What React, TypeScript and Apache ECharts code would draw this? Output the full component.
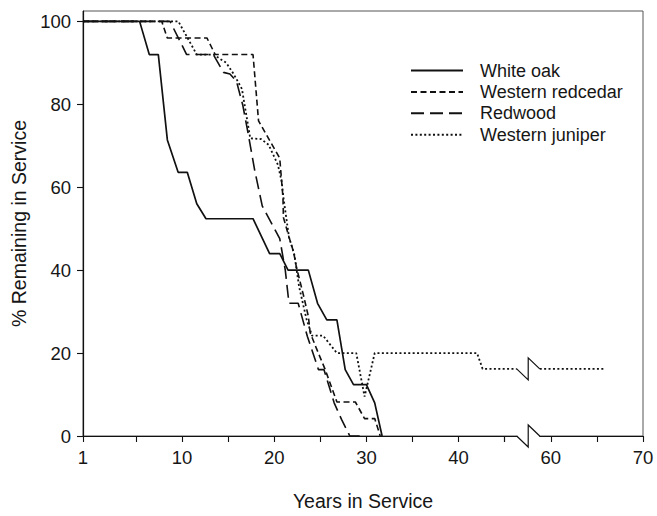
import React, { useEffect, useRef } from "react";
import * as echarts from "echarts";

// ---- axis description (years) ----
const X_START = -0.74; // drawing position of the first tick, labelled "1"
const xTickYears = [1, 5, 10, 15, 20, 25, 30, 35, 40, 45, 55, 60, 65, 70];
const xLabelYears = [1, 10, 20, 30, 40, 60, 70];
const yTicks = [0, 20, 40, 60, 80, 100];
const BREAK_LEFT = 46.3; // axis break (years)
const BREAK_RIGHT = 58.8;

// ---- series (years in service, % remaining) ----
const seriesNames = ["White oak", "Western redcedar", "Redwood", "Western juniper"];

const whiteOakX = [1, 5.4, 6.45, 7.43, 8.41, 9.58, 10.57, 11.6, 12.6, 17.7, 19.5, 20.6, 21.5, 23.7, 24.7, 25.7, 26.8, 27.7, 28.6, 30.0, 30.9, 31.7];
const whiteOakY = [100, 100, 92, 92, 71.4, 63.6, 63.6, 56, 52.4, 52.4, 44, 44, 40, 40, 32, 28, 28, 16, 12.4, 12.4, 8, 0];

const redcedarX = [1, 7.8, 8.4, 12.7, 13.6, 17.7, 18.3, 20.6, 20.95, 21.0, 21.6, 22.1, 22.4, 23.2, 23.7, 23.9, 24.6, 25.5, 26.8, 28.8, 29.8, 30.9, 31.5];
const redcedarY = [100, 100, 96, 96, 92, 92, 76, 67, 57.5, 52.7, 48, 44.4, 40.8, 33.7, 28.9, 24.9, 21, 16.2, 8.2, 8.2, 4.2, 4.2, 0];

const redwoodX = [1, 8.7, 10.5, 13.4, 14.5, 15.2, 15.9, 16.6, 17.2, 17.9, 18.7, 20.6, 21.2, 21.6, 22.6, 23.6, 24.8, 25.4, 26.5, 27.3, 28.2, 29.3];
const redwoodY = [100, 100, 92, 92, 87.7, 87.3, 85.6, 79.7, 72.6, 63.9, 55.5, 47.6, 40, 32, 32, 24, 16, 16, 8, 4, 0, 0];

const juniperX = [1, 9.6, 11.6, 13.4, 14.8, 15.6, 16.5, 16.8, 17.4, 18.6, 19.4, 20.4, 20.8, 21.0, 21.6, 22.2, 22.7, 23.5, 24.1, 25.3, 26.8, 28.9, 29.8, 30.9, 42.0, 42.6, 46.3];
const juniperY = [100, 100, 92, 92, 90, 87.3, 83.7, 79.7, 71.8, 71.6, 70.2, 65.4, 61.5, 57.5, 48, 43.6, 36, 28.2, 24.2, 24.2, 20, 20, 9.5, 20, 20, 16.2, 16.2];
const juniperTailX = [58.8, 65.7];
const juniperTailY = [16.2, 16.2];

// years -> drawing position along the (broken) axis
const toDisplay = (year: number) => {
  if (year <= 5) return X_START + ((year - 1) * (5 - X_START)) / 4;
  if (year >= 50) return year - 10;
  return year;
};

const FONT = "'Liberation Sans', Arial, Helvetica, sans-serif";
const INK = "#111";
const TEXT = "#161616";

export default function App() {
  const ref = useRef<HTMLDivElement>(null);
  useEffect(() => {
    const chart = echarts.init(ref.current!, undefined, { renderer: "svg" });
    const mk = (xs: number[], ys: number[]) => xs.map((x, i) => [toDisplay(x), ys[i]]);
    const line = (name: string, xs: number[], ys: number[], ls: any) => ({
      type: "line",
      name,
      data: mk(xs, ys),
      symbol: "none",
      silent: true,
      lineStyle: { color: INK, width: 1.6, ...ls },
      itemStyle: { color: INK },
      z: 3,
    });
    const labelFor = (v: number) => {
      const y = xLabelYears.find((yr) => Math.abs(toDisplay(yr) - v) < 1e-6);
      return y === undefined ? "" : String(y);
    };
    chart.setOption({
      animation: false,
      grid: { left: 83, right: 14, top: 11, bottom: 74.5, show: true, borderColor: "#555", borderWidth: 1 },
      xAxis: {
        type: "value",
        min: X_START,
        max: toDisplay(70),
        axisLine: { onZero: false, lineStyle: { color: INK, width: 1.2 } },
        axisTick: { customValues: xTickYears.map(toDisplay), length: 6, lineStyle: { color: INK, width: 1.1 } },
        axisLabel: {
          customValues: xLabelYears.map(toDisplay),
          formatter: (v: number) => labelFor(v),
          fontSize: 18.5,
          color: TEXT,
          margin: 12,
          fontFamily: FONT,
        },
        splitLine: { show: false },
        name: "Years in Service",
        nameLocation: "middle",
        nameGap: 55,
        nameTextStyle: { fontSize: 19.5, color: TEXT, fontFamily: FONT },
      },
      yAxis: {
        type: "value",
        min: 0,
        max: 102.5,
        axisLine: { show: true, onZero: false, lineStyle: { color: INK, width: 1.2 } },
        axisTick: { show: true, customValues: yTicks, length: 6, lineStyle: { color: INK, width: 1.1 } },
        axisLabel: { customValues: yTicks, fontSize: 18.5, color: TEXT, margin: 12, fontFamily: FONT },
        splitLine: { show: false },
        name: "% Remaining in Service",
        nameLocation: "middle",
        nameGap: 52,
        nameTextStyle: { fontSize: 19.5, color: TEXT, fontFamily: FONT },
      },
      legend: {
        orient: "vertical",
        left: 410,
        top: 61.5,
        padding: 0,
        itemWidth: 52,
        itemHeight: 14,
        itemGap: 3.4,
        selectedMode: false,
        data: seriesNames,
        itemStyle: { opacity: 0 },
        textStyle: { fontSize: 18, color: TEXT, fontFamily: FONT, padding: [0, 0, 0, 12], lineHeight: 18 },
      },
      series: [
        line(seriesNames[0], whiteOakX, whiteOakY, { type: "solid", width: 1.7 }),
        line(seriesNames[1], redcedarX, redcedarY, { type: [6, 3.5] }),
        line(seriesNames[2], redwoodX, redwoodY, { type: [13, 6] }),
        line(seriesNames[3], juniperX, juniperY, { type: [2, 2.4], width: 1.8 }),
        line(seriesNames[3], juniperTailX, juniperTailY, { type: [2, 2.4], width: 1.8 }),
      ],
    });

    const p = (x: number, y: number) => chart.convertToPixel({ gridIndex: 0 }, [x, y]) as number[];
    const graphics: any[] = [];
    [0, juniperTailY[0]].forEach((v, k) => {
      const [x1, yy] = p(toDisplay(BREAK_LEFT), v);
      const [x2] = p(toDisplay(BREAK_RIGHT), v);
      const xm = (x1 + x2) / 2;
      if (k === 0) {
        graphics.push({ type: "rect", shape: { x: x1 + 0.5, y: yy - 2.5, width: x2 - x1 - 1, height: 5 }, style: { fill: "#fff" }, z: 10 });
      }
      graphics.push({
        type: "polyline",
        shape: { points: [[x1, yy], [xm, yy + 11], [xm, yy - 11], [x2, yy]] },
        style: { stroke: INK, lineWidth: 1.2, fill: null },
        z: 11,
      });
    });
    chart.setOption({ graphic: graphics });

    return () => chart.dispose();
  }, []);
  return <div ref={ref} style={{ position: "fixed", left: 0, top: 0, width: 657, height: 516, background: "#fff" }} />;
}
